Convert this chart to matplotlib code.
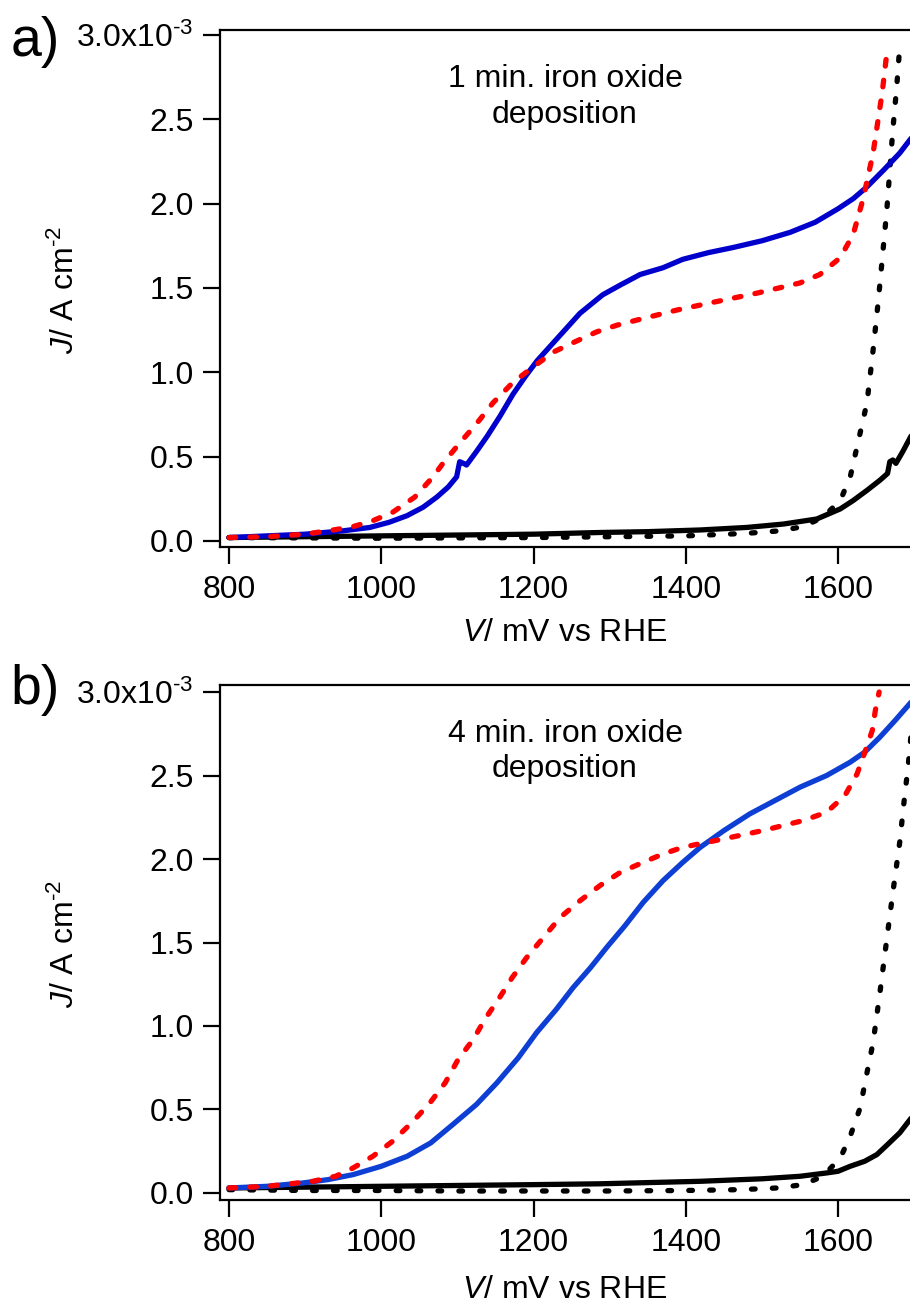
import numpy as np
import matplotlib
matplotlib.use("Agg")
import matplotlib.pyplot as plt

plt.rcParams["font.family"] = ["Liberation Sans", "DejaVu Sans"]
plt.rcParams["mathtext.fontset"] = "custom"
plt.rcParams["mathtext.rm"] = "Liberation Sans"
plt.rcParams["mathtext.it"] = "Liberation Sans:italic"

# panel a, 1 min. deposition (J in units of 1e-3 A cm-2)
a_blue_v = [800, 850, 900, 950, 985, 1010, 1034, 1055, 1073, 1088, 1099, 1103, 1108, 1112, 1125, 1139,
            1156, 1173, 1190, 1205, 1231, 1261, 1291, 1315, 1340, 1370, 1396, 1430, 1462, 1500, 1537,
            1570, 1600, 1620, 1638, 1660, 1681, 1698]
a_blue_j = [0.02, 0.03, 0.04, 0.06, 0.08, 0.11, 0.15, 0.20, 0.26, 0.32, 0.38, 0.47, 0.46, 0.45, 0.53, 0.62,
            0.74, 0.87, 0.98, 1.07, 1.20, 1.35, 1.46, 1.52, 1.58, 1.62, 1.67, 1.71, 1.74, 1.78, 1.83,
            1.89, 1.97, 2.03, 2.10, 2.20, 2.30, 2.40]
a_red_v = [800, 850, 900, 937, 963, 989, 1015, 1044, 1068, 1081, 1103, 1126, 1147, 1173, 1199, 1226,
           1254, 1283, 1310, 1336, 1389, 1441, 1494, 1550, 1576, 1603, 1620, 1633, 1646, 1658, 1665]
a_red_j = [0.02, 0.025, 0.04, 0.065, 0.085, 0.12, 0.17, 0.26, 0.38, 0.46, 0.58, 0.70, 0.82, 0.94, 1.03, 1.12,
           1.18, 1.24, 1.28, 1.31, 1.37, 1.42, 1.47, 1.53, 1.58, 1.68, 1.82, 2.03, 2.30, 2.66, 2.93]
a_dark_v = [800, 900, 1000, 1100, 1200, 1287, 1350, 1419, 1480, 1528, 1572, 1603, 1620, 1638, 1655,
            1665, 1668, 1672, 1676, 1685, 1698]
a_dark_j = [0.02, 0.025, 0.03, 0.035, 0.04, 0.05, 0.055, 0.065, 0.08, 0.10, 0.13, 0.19, 0.24, 0.30, 0.36,
            0.40, 0.47, 0.48, 0.46, 0.53, 0.64]
a_dot_v = [800, 900, 1000, 1100, 1200, 1300, 1400, 1480, 1524, 1554, 1580, 1603, 1616, 1629, 1638, 1646,
           1653, 1659, 1664, 1668, 1672, 1677, 1681]
a_dot_j = [0.02, 0.018, 0.016, 0.018, 0.02, 0.025, 0.03, 0.045, 0.06, 0.085, 0.14, 0.24, 0.38, 0.64, 0.82, 1.13,
           1.43, 1.72, 1.96, 2.20, 2.44, 2.69, 2.93]

# panel b, 4 min. deposition
b_blue_v = [800, 850, 897, 930, 963, 1000, 1034, 1065, 1094, 1125, 1152, 1180, 1204, 1230, 1252, 1275,
            1296, 1320, 1344, 1370, 1396, 1419, 1450, 1484, 1517, 1550, 1585, 1616, 1635, 1655, 1675, 1698]
b_blue_j = [0.03, 0.04, 0.06, 0.08, 0.11, 0.16, 0.22, 0.30, 0.41, 0.53, 0.66, 0.81, 0.96, 1.10, 1.23, 1.35,
            1.47, 1.60, 1.74, 1.87, 1.98, 2.07, 2.17, 2.27, 2.35, 2.43, 2.50, 2.58, 2.64, 2.73, 2.83, 2.95]
b_red_v = [800, 850, 910, 940, 963, 989, 1015, 1042, 1064, 1084, 1101, 1121, 1136, 1154, 1172, 1191,
           1213, 1235, 1261, 1287, 1314, 1344, 1370, 1396, 1449, 1501, 1554, 1585, 1609, 1625, 1636,
           1645, 1649, 1654]
b_red_j = [0.03, 0.04, 0.07, 0.10, 0.15, 0.22, 0.31, 0.43, 0.54, 0.66, 0.80, 0.92, 1.04, 1.16, 1.29, 1.41,
           1.53, 1.65, 1.75, 1.84, 1.92, 1.98, 2.03, 2.07, 2.12, 2.17, 2.23, 2.28, 2.38, 2.51, 2.65,
           2.77, 2.89, 3.00]
b_dark_v = [800, 900, 1000, 1100, 1200, 1287, 1419, 1500, 1550, 1585, 1600, 1616, 1635, 1651, 1665, 1681, 1698]
b_dark_j = [0.03, 0.035, 0.04, 0.045, 0.05, 0.055, 0.07, 0.085, 0.10, 0.12, 0.13, 0.16, 0.19, 0.23, 0.29,
            0.36, 0.46]
b_dot_v = [800, 900, 1000, 1100, 1200, 1300, 1400, 1472, 1520, 1554, 1580, 1603, 1616, 1629, 1638, 1646,
           1655, 1664, 1672, 1681, 1688, 1692, 1698]
b_dot_j = [0.02, 0.015, 0.015, 0.012, 0.012, 0.012, 0.015, 0.02, 0.03, 0.05, 0.10, 0.21, 0.34, 0.51, 0.72,
           0.90, 1.20, 1.52, 1.80, 2.10, 2.40, 2.55, 2.85]

ytick_vals = [0.0, 0.5, 1.0, 1.5, 2.0, 2.5, 3.0]
ytick_labels = ["0.0", "0.5", "1.0", "1.5", "2.0", "2.5", r"3.0x10$^{\text{-3}}$"]
xtick_vals = [800, 1000, 1200, 1400, 1600]

W, H = 910, 1305
fig = plt.figure(figsize=(W / 100, H / 100), dpi=100)

panels = [
    dict(box=(220, 30, 547), ylim=(-0.036, 3.03), blue="#0000cc",
         curves=(a_blue_v, a_blue_j, a_red_v, a_red_j, a_dark_v, a_dark_j, a_dot_v, a_dot_j),
         text="1 min. iron oxide\ndeposition", letter="a)", letter_y=42),
    dict(box=(220, 685, 1200), ylim=(-0.042, 3.042), blue="#0d3fd4",
         curves=(b_blue_v, b_blue_j, b_red_v, b_red_j, b_dark_v, b_dark_j, b_dot_v, b_dot_j),
         text="4 min. iron oxide\ndeposition", letter="b)", letter_y=690),
]

fs = 23
lw = 3.8
for p in panels:
    left, top, bottom = p["box"]
    ax = fig.add_axes([left / W, 1 - bottom / H, 1 - left / W, (bottom - top) / H])
    bv, bj, rv, rj, dv, dj, ov, oj = p["curves"]
    ax.plot(dv, np.array(dj) * 1e-3, color="black", lw=lw, solid_capstyle="round", zorder=2)
    ax.plot(ov, np.array(oj) * 1e-3, color="black", lw=lw, dashes=(0.7, 3.26),
            dash_capstyle="round", zorder=2)
    ax.plot(bv, np.array(bj) * 1e-3, color=p["blue"], lw=lw, solid_capstyle="round", zorder=3)
    ax.plot(rv, np.array(rj) * 1e-3, color="#ff0000", lw=lw, dashes=(1.26, 2.7),
            dash_capstyle="round", zorder=4)

    ax.set_xlim(788.2, 1694.5)
    ax.set_ylim(p["ylim"][0] * 1e-3, p["ylim"][1] * 1e-3)
    ax.set_xticks(xtick_vals)
    ax.set_yticks(np.array(ytick_vals) * 1e-3)
    ax.set_yticklabels(ytick_labels)
    ax.spines["right"].set_visible(False)
    for s in ["left", "top", "bottom"]:
        ax.spines[s].set_linewidth(1.6)
    ax.tick_params(direction="out", length=12, width=1.6, labelsize=fs, pad=7)
    ax.tick_params(axis="x", pad=8)

    h = bottom - top
    ax.set_xlabel(r"$\mathit{V}$/ mV vs RHE", fontsize=fs, va="center")
    ax.xaxis.set_label_coords((565 - left) / (W - left), -(86 if top < 100 else 90) / h)
    ax.set_ylabel(r"$\mathit{J}$/ A cm$^{\text{-2}}$", fontsize=fs, va="center")
    ax.yaxis.set_label_coords((65 - left) / (W - left), 0.497)

    ax.text(0.5, 0.871, p["text"], transform=ax.transAxes, ha="center", va="center",
            fontsize=fs, linespacing=1.25)
    fig.text(35 / W, 1 - p["letter_y"] / H, p["letter"], fontsize=40, ha="center", va="center")

fig.savefig("out.png", dpi=100)
